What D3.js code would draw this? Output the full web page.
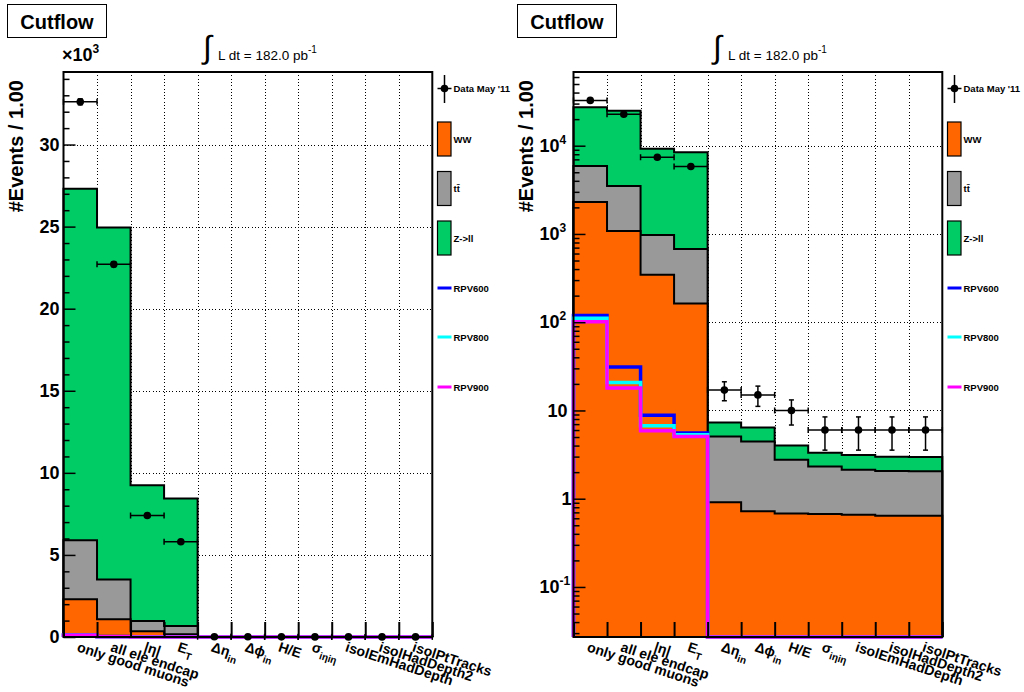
<!DOCTYPE html>
<html>
<head>
<meta charset="utf-8">
<script src="https://cdn.jsdelivr.net/npm/d3@7/dist/d3.min.js"></script>
<style>
  body { margin: 0; background: #fff; }
  svg { display: block; }
  text { font-family: "Liberation Sans", Arial, Helvetica, sans-serif; }
</style>
</head>
<body>
<svg id="chart" width="1024" height="692"></svg>
<script>
// ---- cut names (underscore marks a subscript) ----
const cutLabels = ["only good muons", "all ele endcap", "|η|", "E_T", "Δη_in", "Δϕ_in",
                   "H/E", "σ_iηiη", "isolEmHadDepth", "isolHadDepth2", "isolPtTracks"];

// ---- event counts after each cut ----
const dataCounts = [32600, 22700, 7400, 5800, 17, 15, 10, 6, 6, 6, 6];
const wwYield    = [2300, 1080, 344, 163, 0.91, 0.72, 0.68, 0.67, 0.66, 0.64, 0.64];
const ttbarYield = [3600, 2420, 626, 512, 4.17, 3.73, 2.09, 1.65, 1.47, 1.42, 1.41];
const zllYield   = [21400, 21450, 8280, 7755, 2.22, 1.95, 1.23, 1.0, 0.99, 0.93, 0.92];
const rpv600     = [119, 31, 8.8, 5.55, 0, 0, 0, 0, 0, 0, 0];
const rpv800     = [111, 20.7, 6.7, 5.3, 0, 0, 0, 0, 0, 0, 0];
const rpv900     = [101, 18, 5.9, 5.08, 0, 0, 0, 0, 0, 0, 0];

// ---- axis ticks ----
const linearTicks = [0, 5000, 10000, 15000, 20000, 25000, 30000];
const logTicks = [0.1, 1, 10, 100, 1000, 10000];

const svg = d3.select("#chart");
const nBins = cutLabels.length;

const colors = { ww: "#ff6600", tt: "#999999", zll: "#00cc66",
                 rpv600: "#0000ff", rpv800: "#00ffff", rpv900: "#ff00ff" };

// cumulative stack tops
const stackWW  = wwYield.slice();
const stackTT  = wwYield.map((v, i) => v + ttbarYield[i]);
const stackAll = stackTT.map((v, i) => v + zllYield[i]);

const frame = { left: 63.5, right: 432.3, top: 72, bottom: 637 };
const crisp = v => Math.round(v) + 0.5;

function addRichText(sel, str, subSize, subDy) {
  const parts = str.split("_");
  sel.append("tspan").text(parts[0]);
  if (parts.length > 1) {
    sel.append("tspan").attr("font-size", subSize).attr("dy", subDy).text(parts[1]);
  }
}

function drawPanel(offsetX, useLog) {
  const g = svg.append("g").attr("transform", `translate(${offsetX},0)`);

  const x = d3.scaleLinear().domain([0, nBins]).range([frame.left, frame.right]);
  const y = useLog
    ? d3.scaleLog().domain([0.0271, 68400]).range([frame.bottom, frame.top]).clamp(true)
    : d3.scaleLinear().domain([0, 34419]).range([frame.bottom, frame.top]).clamp(true);
  const yv = v => (useLog && v <= 0) ? frame.bottom : y(v);

  // ---- title box ----
  g.append("rect").attr("x", 7.5).attr("y", 4.5).attr("width", 99).attr("height", 33)
    .attr("fill", "#fff").attr("stroke", "#000").attr("stroke-width", 1);
  g.append("text").attr("x", 57).attr("y", 29).attr("text-anchor", "middle")
    .attr("font-size", 20).attr("font-weight", "bold").text("Cutflow");

  // ---- luminosity label ----
  g.append("text").attr("x", 203).attr("y", 58).attr("font-size", 32)
    .attr("font-family", "DejaVu Sans").text("∫");
  const lumi = g.append("text").attr("x", 218).attr("y", 60).attr("font-size", 13.5);
  lumi.append("tspan").text("L dt = 182.0 pb");
  lumi.append("tspan").attr("font-size", 10).attr("dy", -7).text("-1");

  // ---- grid ----
  const grid = g.append("g").attr("stroke", "#000").attr("stroke-width", 1)
    .attr("stroke-dasharray", "1,2.3").attr("shape-rendering", "crispEdges");
  grid.selectAll("line.v").data(d3.range(1, nBins)).join("line")
    .attr("x1", d => crisp(x(d))).attr("x2", d => crisp(x(d)))
    .attr("y1", frame.top).attr("y2", frame.bottom);
  const gridY = useLog ? logTicks : linearTicks.filter(t => t > 0);
  grid.selectAll("line.h").data(gridY).join("line")
    .attr("x1", frame.left).attr("x2", frame.right)
    .attr("y1", d => crisp(y(d))).attr("y2", d => crisp(y(d)));

  // ---- stacked histograms ----
  const stepPoints = vals => {
    const pts = [[0, null]];
    vals.forEach((v, i) => pts.push([i, v]));
    pts.push([nBins, vals[nBins - 1]]);
    pts.push([nBins, null]);
    return pts;
  };
  const stepLine = d3.line().curve(d3.curveStepAfter)
    .x(d => x(d[0]))
    .y(d => d[1] === null ? frame.bottom : yv(d[1]));
  const stepArea = d3.area().curve(d3.curveStepAfter)
    .x(d => x(d[0])).y0(frame.bottom)
    .y1(d => d[1] === null ? frame.bottom : yv(d[1]));

  const layers = [
    { vals: stackAll, color: colors.zll },
    { vals: stackTT, color: colors.tt },
    { vals: stackWW, color: colors.ww }
  ];
  layers.forEach(L => {
    const pts = stepPoints(L.vals);
    g.append("path").attr("d", stepArea(pts)).attr("fill", L.color);
    g.append("path").attr("d", stepLine(pts)).attr("fill", "none")
      .attr("stroke", "#000").attr("stroke-width", 2);
  });

  // ---- signal curves ----
  [[rpv600, colors.rpv600], [rpv800, colors.rpv800], [rpv900, colors.rpv900]].forEach(([vals, c]) => {
    g.append("path").attr("d", stepLine(stepPoints(vals))).attr("fill", "none")
      .attr("stroke", c).attr("stroke-width", 3.5);
  });

  // ---- data points with errors ----
  const dg = g.append("g").attr("stroke", "#000").attr("stroke-width", 1.5);
  dataCounts.forEach((n, i) => {
    const cx = x(i + 0.5), cy = yv(n);
    const err = Math.sqrt(n);
    const yHi = yv(n + err), yLo = yv(Math.max(n - err, 1e-9));
    dg.append("line").attr("x1", x(i)).attr("x2", x(i + 1)).attr("y1", cy).attr("y2", cy);
    dg.append("line").attr("x1", x(i)).attr("x2", x(i)).attr("y1", cy - 3).attr("y2", cy + 3);
    dg.append("line").attr("x1", x(i + 1)).attr("x2", x(i + 1)).attr("y1", cy - 3).attr("y2", cy + 3);
    dg.append("line").attr("x1", cx).attr("x2", cx).attr("y1", yHi).attr("y2", yLo);
    dg.append("line").attr("x1", cx - 2.5).attr("x2", cx + 2.5).attr("y1", yHi).attr("y2", yHi);
    dg.append("line").attr("x1", cx - 2.5).attr("x2", cx + 2.5).attr("y1", yLo).attr("y2", yLo);
    dg.append("circle").attr("cx", cx).attr("cy", cy).attr("r", 3.8).attr("fill", "#000").attr("stroke", "none");
  });

  // ---- frame ----
  g.append("rect").attr("x", frame.left).attr("y", frame.top)
    .attr("width", frame.right - frame.left).attr("height", frame.bottom - frame.top)
    .attr("fill", "none").attr("stroke", "#000").attr("stroke-width", 2);

  // ---- y axis ----
  const yAxis = d3.axisLeft(y).tickSizeInner(-12).tickSizeOuter(0).tickPadding(4);
  let minorVals;
  if (useLog) {
    yAxis.tickValues(logTicks).tickFormat(() => "");
    minorVals = [];
    [-2, -1, 0, 1, 2, 3, 4].forEach(e => {
      for (let m = 2; m <= 9; m++) {
        const v = m * Math.pow(10, e);
        if (v > y.domain()[0] && v < y.domain()[1]) minorVals.push(v);
      }
    });
  } else {
    yAxis.tickValues(linearTicks).tickFormat(v => v / 1000);
    minorVals = d3.range(1000, 34419, 1000).filter(v => v % 5000 !== 0);
  }
  const ya = g.append("g").attr("transform", `translate(${frame.left},0)`).call(yAxis);
  ya.select(".domain").remove();
  ya.selectAll(".tick line").attr("stroke", "#000").attr("stroke-width", 1.5);
  ya.selectAll(".tick text").attr("font-size", 18).attr("font-weight", "bold")
    .attr("font-family", "Liberation Sans, Arial, sans-serif").attr("fill", "#000");
  if (useLog) {
    ya.selectAll(".tick text").each(function(v) {
      const t = d3.select(this);
      const e = Math.round(Math.log10(v));
      if (e === 0) { t.text("1").attr("x", -2); }
      else if (e === 1) { t.text("10").attr("x", -6); }
      else {
        t.attr("text-anchor", "start").attr("x", -34);
        t.append("tspan").text("10");
        t.append("tspan").attr("font-size", 12).attr("dy", -8).text(e);
      }
    });
  }
  const yMinor = g.append("g").attr("transform", `translate(${frame.left},0)`)
    .call(d3.axisLeft(y).tickValues(minorVals).tickSizeInner(-6).tickSizeOuter(0).tickFormat(() => ""));
  yMinor.select(".domain").remove();
  yMinor.selectAll(".tick line").attr("stroke", "#000").attr("stroke-width", 1.5);

  // ---- x axis ----
  const xa = g.append("g").attr("transform", `translate(0,${frame.bottom})`)
    .call(d3.axisBottom(x).tickValues(d3.range(0, nBins + 1)).tickSizeInner(-15).tickSizeOuter(0).tickFormat(() => ""));
  xa.select(".domain").remove();
  xa.selectAll(".tick line").attr("stroke", "#000").attr("stroke-width", 2);

  // cut labels, rotated below the axis
  cutLabels.forEach((lab, i) => {
    const t = g.append("text")
      .attr("transform", `translate(${x(i + 0.5) - 4},651) rotate(18)`)
      .attr("font-size", 14).attr("font-weight", "bold");
    addRichText(t, lab, 10, 5);
  });

  // ---- y axis title ----
  g.append("text").attr("transform", "translate(23,80) rotate(-90)")
    .attr("text-anchor", "end").attr("font-size", 20).attr("font-weight", "bold")
    .text("#Events / 1.00");

  if (!useLog) {
    const ex = g.append("text").attr("x", 62).attr("y", 61)
      .attr("font-size", 18).attr("font-weight", "bold");
    ex.append("tspan").text("×10");
    ex.append("tspan").attr("font-size", 12).attr("dy", -8).text("3");
  }

  // ---- legend ----
  const lx = 437.5;
  const lg = g.append("g");
  const dataY = 88.5;
  lg.append("line").attr("x1", lx + 7).attr("x2", lx + 7).attr("y1", 75).attr("y2", 103)
    .attr("stroke", "#000").attr("stroke-width", 1.5);
  lg.append("line").attr("x1", lx).attr("x2", lx + 14).attr("y1", dataY).attr("y2", dataY)
    .attr("stroke", "#000").attr("stroke-width", 1.5);
  lg.append("circle").attr("cx", lx + 7).attr("cy", dataY).attr("r", 3.8).attr("fill", "#000");
  const boxes = [
    { label: "WW", color: colors.ww, cy: 139 },
    { label: "tt\u0304", color: colors.tt, cy: 188.5 },
    { label: "Z->ll", color: colors.zll, cy: 238 }
  ];
  boxes.forEach(b => {
    lg.append("rect").attr("x", lx).attr("y", b.cy - 17).attr("width", 13.5).attr("height", 34)
      .attr("fill", b.color).attr("stroke", "#000").attr("stroke-width", 1.2);
  });
  const lines = [
    { label: "RPV600", color: colors.rpv600, cy: 288 },
    { label: "RPV800", color: colors.rpv800, cy: 337 },
    { label: "RPV900", color: colors.rpv900, cy: 387 }
  ];
  lines.forEach(l => {
    lg.append("line").attr("x1", lx).attr("x2", lx + 14).attr("y1", l.cy).attr("y2", l.cy)
      .attr("stroke", l.color).attr("stroke-width", 3);
  });
  [{ label: "Data May '11", cy: dataY }].concat(boxes, lines).forEach(e => {
    lg.append("text").attr("x", lx + 16).attr("y", e.cy + 3.5)
      .attr("font-size", 9.5).attr("font-weight", "bold").text(e.label);
  });
}

drawPanel(0, false);
drawPanel(510, true);
</script>
</body>
</html>
